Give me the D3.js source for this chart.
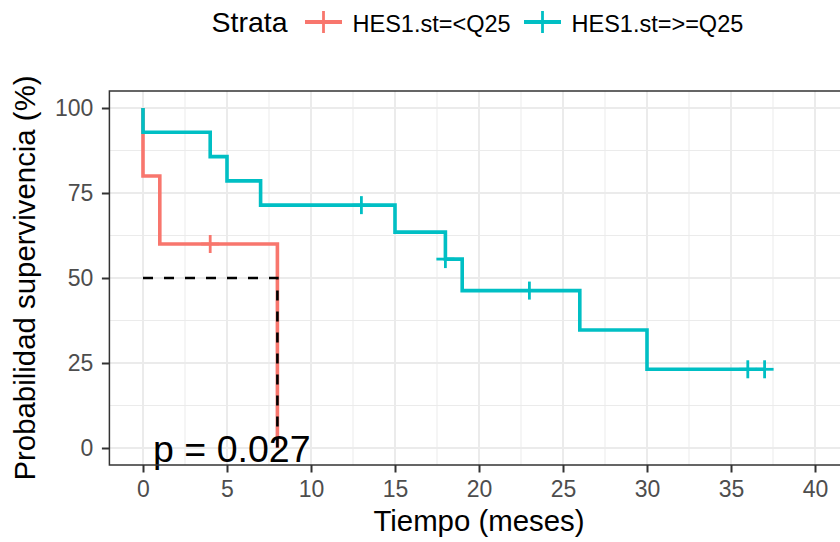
<!DOCTYPE html>
<html>
<head>
<meta charset="utf-8">
<script src="https://cdn.jsdelivr.net/npm/d3@7"></script>
<style>
  body { margin: 0; background: #fff; }
  svg { display: block; font-family: "Liberation Sans", Arial, sans-serif; }
</style>
</head>
<body>
<div id="chart"></div>
<script>
// strata labels and colours
const strata = ["HES1.st=<Q25", "HES1.st=>=Q25"];
const strataColors = ["#F8766D", "#00BFC4"];

// step curves (time in months, survival %)
const lowTime = [0, 0, 1, 8];
const lowSurv = [100, 80, 60, 0];
const lowCensorTime = [4];
const lowCensorSurv = [60];

const highTime = [0, 0, 4, 5, 7, 15, 18, 19, 26, 30, 37];
const highSurv = [100, 92.86, 85.71, 78.57, 71.43, 63.49, 55.56, 46.30, 34.72, 23.15, 23.15];
const highCensorTime = [13, 18, 23, 36, 37];
const highCensorSurv = [71.43, 55.56, 46.30, 23.15, 23.15];

// median survival of first stratum
const medianTime = 8;
const medianSurv = 50;

const xTicks = [0, 5, 10, 15, 20, 25, 30, 35, 40];
const yTicks = [0, 25, 50, 75, 100];
const pLabel = "p = 0.027";

const w = 840, h = 542;
// panel edges
const pLeft = 109.4, pRight = 848.6, pTop = 91, pBottom = 465;

const svg = d3.select("#chart")
    .append("svg")
    .attr("width", w)
    .attr("height", h);

const x = d3.scaleLinear().domain([-2, 42]).range([pLeft, pRight]);
const y = d3.scaleLinear().domain([-5, 105]).range([pBottom, pTop]);

// panel background + grid
svg.append("rect")
    .attr("x", pLeft).attr("y", pTop)
    .attr("width", pRight - pLeft).attr("height", pBottom - pTop)
    .attr("fill", "#fff");

const xMinor = d3.range(2.5, 40, 5);
const yMinor = d3.range(12.5, 100, 25);

const grid = svg.append("g");
grid.selectAll(".xminor").data(xMinor).enter().append("line")
    .attr("x1", d => x(d)).attr("x2", d => x(d))
    .attr("y1", pTop).attr("y2", pBottom)
    .attr("stroke", "#EBEBEB").attr("stroke-width", 1);
grid.selectAll(".yminor").data(yMinor).enter().append("line")
    .attr("y1", d => y(d)).attr("y2", d => y(d))
    .attr("x1", pLeft).attr("x2", pRight)
    .attr("stroke", "#EBEBEB").attr("stroke-width", 1);
grid.selectAll(".xmajor").data(xTicks).enter().append("line")
    .attr("x1", d => x(d)).attr("x2", d => x(d))
    .attr("y1", pTop).attr("y2", pBottom)
    .attr("stroke", "#EBEBEB").attr("stroke-width", 2);
grid.selectAll(".ymajor").data(yTicks).enter().append("line")
    .attr("y1", d => y(d)).attr("y2", d => y(d))
    .attr("x1", pLeft).attr("x2", pRight)
    .attr("stroke", "#EBEBEB").attr("stroke-width", 2);

// curves
const line = d3.line()
    .x(d => x(d[0]))
    .y(d => y(d[1]))
    .curve(d3.curveStepAfter);

const curves = [
    { t: lowTime, s: lowSurv, ct: lowCensorTime, cs: lowCensorSurv },
    { t: highTime, s: highSurv, ct: highCensorTime, cs: highCensorSurv }
];

curves.forEach((c, i) => {
    const pts = c.t.map((t, j) => [t, c.s[j]]);
    svg.append("path")
        .datum(pts)
        .attr("d", line)
        .attr("fill", "none")
        .attr("stroke", strataColors[i])
        .attr("stroke-width", 3.6);

    // censor marks
    const g = svg.append("g");
    c.ct.forEach((t, j) => {
        const cx = x(t), cy = y(c.cs[j]);
        g.append("line")
            .attr("x1", cx - 9).attr("x2", cx + 9)
            .attr("y1", cy).attr("y2", cy)
            .attr("stroke", strataColors[i]).attr("stroke-width", 2.8);
        g.append("line")
            .attr("x1", cx).attr("x2", cx)
            .attr("y1", cy - 9).attr("y2", cy + 9)
            .attr("stroke", strataColors[i]).attr("stroke-width", 2.8);
    });
});

// median line
svg.append("path")
    .datum([[0, medianSurv], [medianTime, medianSurv], [medianTime, 0]])
    .attr("d", d3.line().x(d => x(d[0])).y(d => y(d[1])))
    .attr("fill", "none")
    .attr("stroke", "#000")
    .attr("stroke-width", 2.6)
    .attr("stroke-dasharray", "10,11");

// p value
svg.append("text")
    .attr("x", x(0.6))
    .attr("y", 462)
    .attr("font-size", 37.5)
    .attr("fill", "#000")
    .text(pLabel);

// panel border
svg.append("rect")
    .attr("x", pLeft).attr("y", pTop)
    .attr("width", pRight - pLeft).attr("height", pBottom - pTop)
    .attr("fill", "none")
    .attr("stroke", "#333")
    .attr("stroke-width", 1.5);

// axes
const xAxis = d3.axisBottom(x).tickValues(xTicks).tickSize(7.5).tickPadding(8);
const yAxis = d3.axisLeft(y).tickValues(yTicks).tickSize(7.5).tickPadding(8.5);

const gx = svg.append("g")
    .attr("transform", "translate(0," + pBottom + ")")
    .call(xAxis);
const gy = svg.append("g")
    .attr("transform", "translate(" + pLeft + ",0)")
    .call(yAxis);

[gx, gy].forEach(g => {
    g.select(".domain").remove();
    g.selectAll(".tick line").attr("stroke", "#333").attr("stroke-width", 2);
    g.selectAll(".tick text")
        .attr("fill", "#4D4D4D")
        .attr("font-size", 23)
        .attr("font-family", "Liberation Sans, Arial, sans-serif");
});

// axis titles
svg.append("text")
    .attr("x", (pLeft + pRight) / 2)
    .attr("y", 531)
    .attr("text-anchor", "middle")
    .attr("font-size", 29.4)
    .text("Tiempo (meses)");

svg.append("text")
    .attr("transform", "translate(35," + ((pTop + pBottom) / 2) + ") rotate(-90)")
    .attr("text-anchor", "middle")
    .attr("font-size", 29.4)
    .text("Probabilidad supervivencia (%)");

// legend
const legend = svg.append("g");
legend.append("text")
    .attr("x", 211.5).attr("y", 32)
    .attr("font-size", 28.5)
    .text("Strata");

const keyX = [305, 524];
strata.forEach((s, i) => {
    const kx = keyX[i], ky = 22;
    legend.append("line")
        .attr("x1", kx).attr("x2", kx + 37)
        .attr("y1", ky).attr("y2", ky)
        .attr("stroke", strataColors[i]).attr("stroke-width", 3.8);
    legend.append("line")
        .attr("x1", kx + 18.5).attr("x2", kx + 18.5)
        .attr("y1", ky - 11).attr("y2", ky + 11)
        .attr("stroke", strataColors[i]).attr("stroke-width", 2.8);
    legend.append("text")
        .attr("x", kx + 47.5).attr("y", 31.5)
        .attr("font-size", 23.5)
        .text(s);
});
</script>
</body>
</html>
